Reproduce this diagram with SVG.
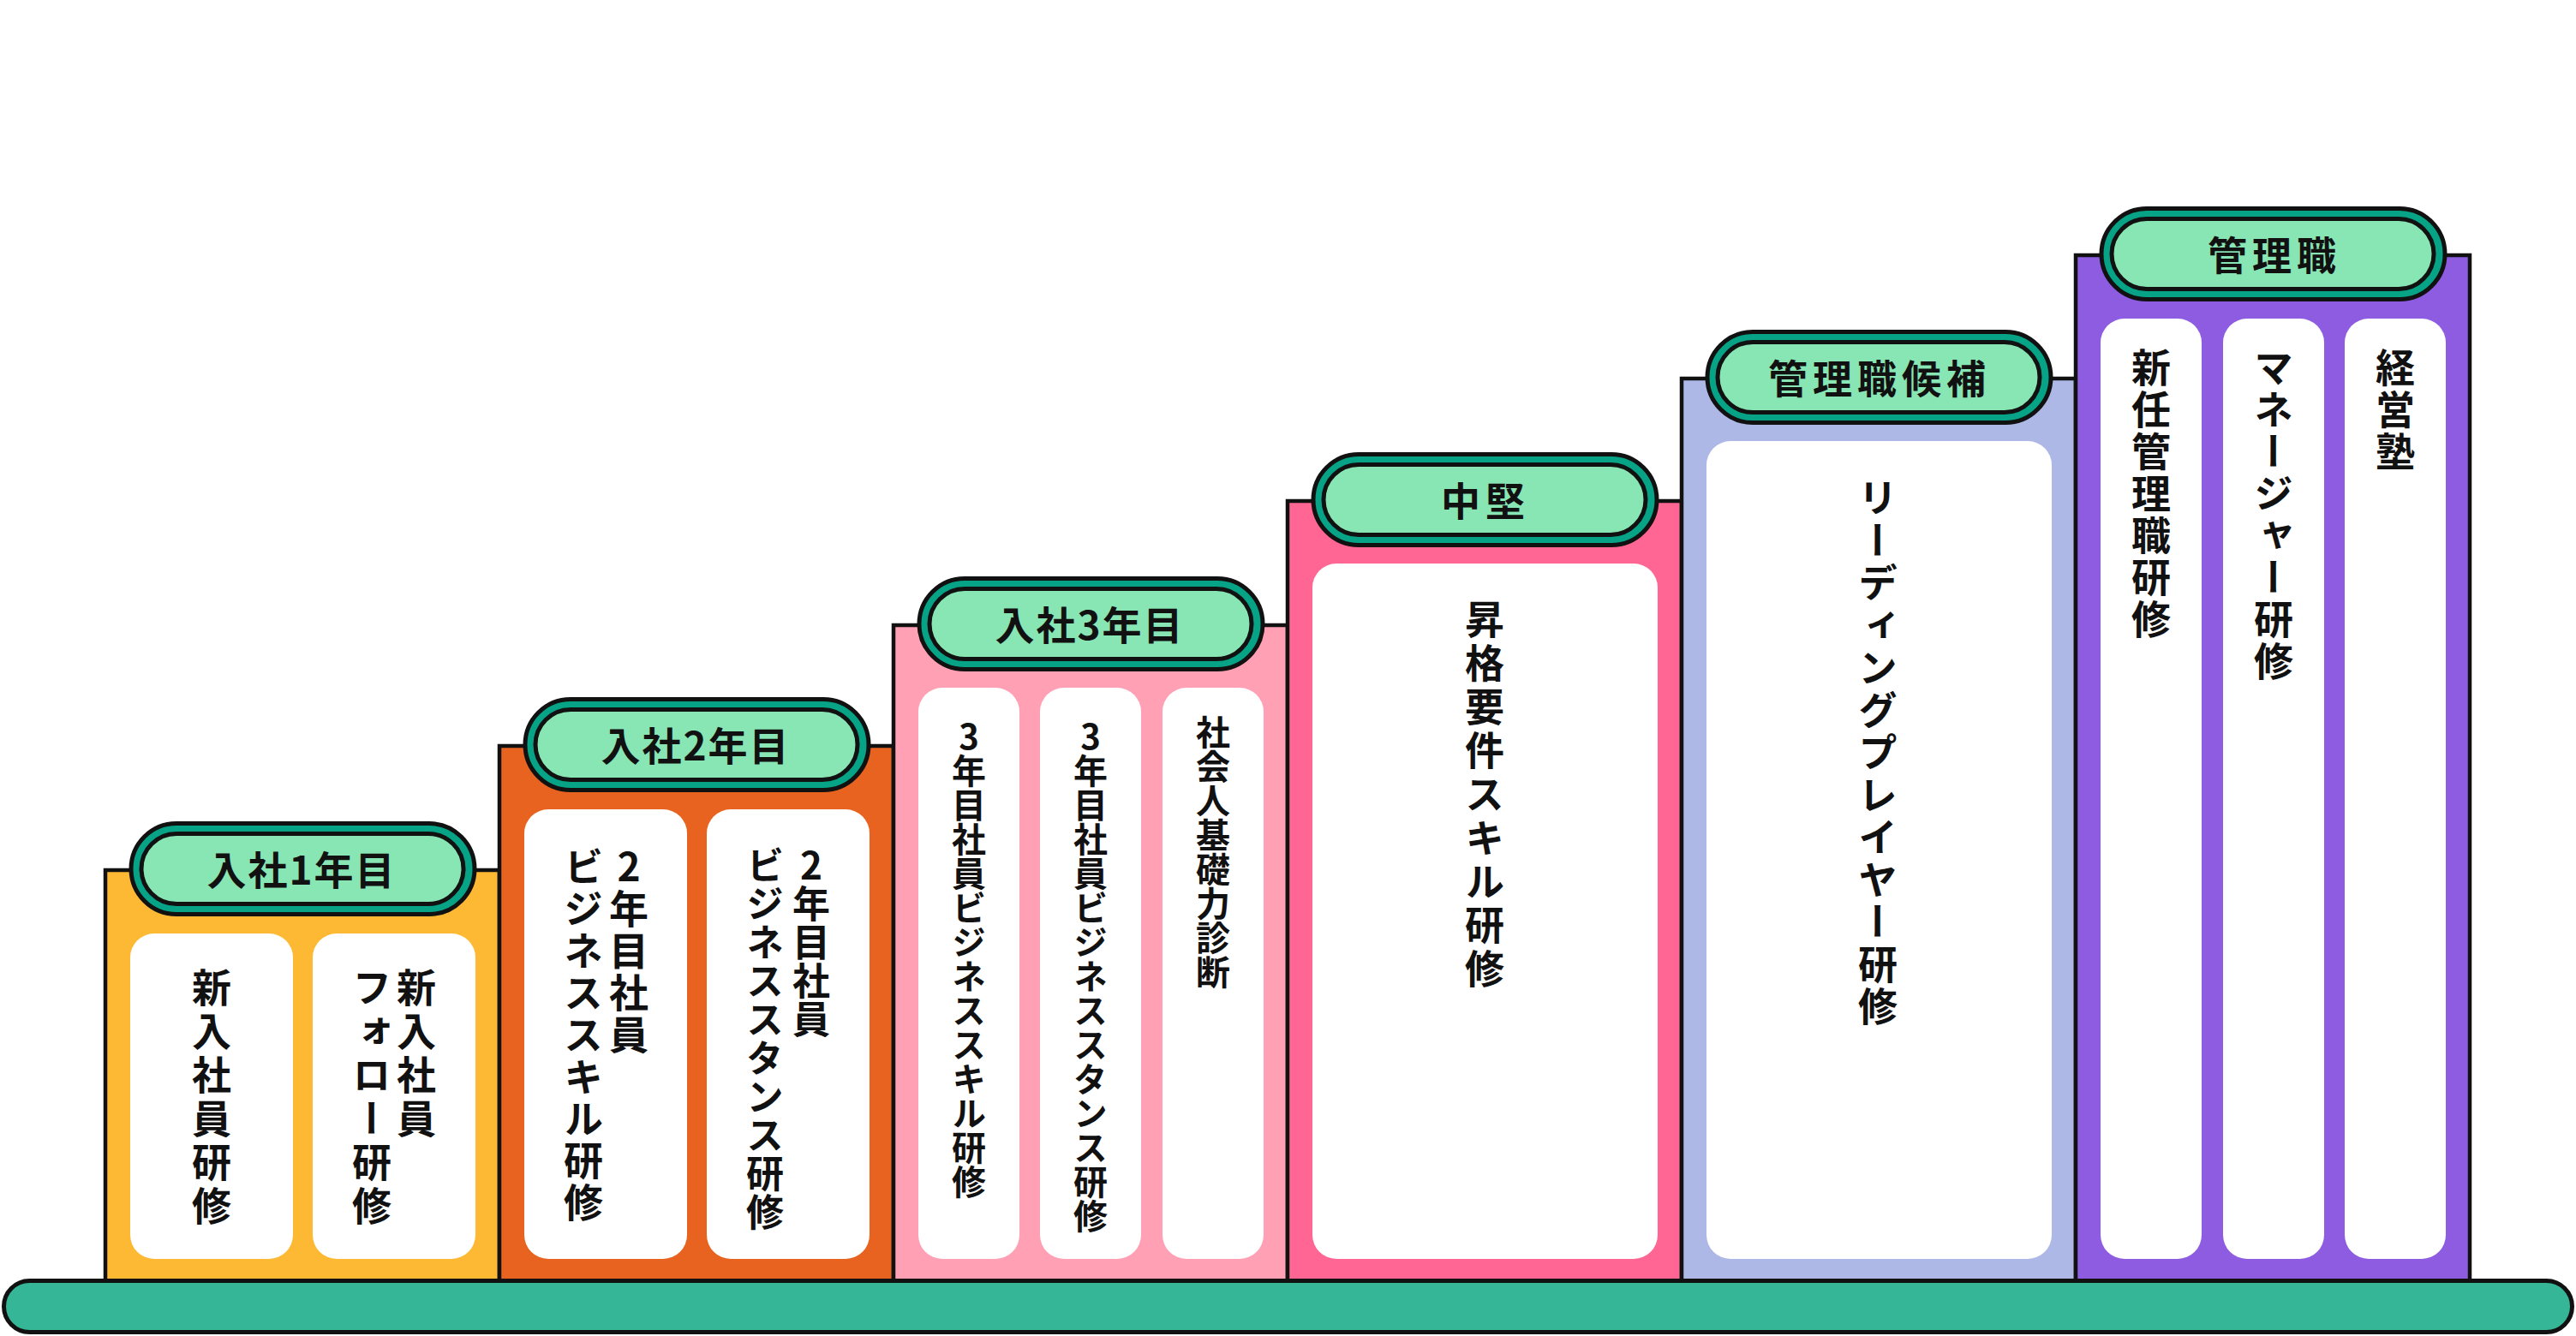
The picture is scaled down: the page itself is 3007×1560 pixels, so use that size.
<svg xmlns="http://www.w3.org/2000/svg" width="3007" height="1560" viewBox="0 0 3007 1560">
<style>
.box{stroke:#111;stroke-width:4.5}
.po{fill:#07A386;stroke:#111;stroke-width:5}
.pi{fill:#88E5B4;stroke:#111;stroke-width:5}
.card{fill:#fff}
.lbl{font-family:"Noto Sans CJK JP","Noto Sans",sans-serif;font-weight:700;font-size:46px;fill:#111;text-anchor:middle}
.v{font-family:"Noto Sans CJK JP","Noto Sans",sans-serif;font-weight:700;font-size:46px;fill:#111;writing-mode:vertical-rl;text-orientation:upright;text-anchor:start}
.bar{fill:#35B696;stroke:#111;stroke-width:5}
</style>
<rect width="3007" height="1560" fill="#fff"/>
<g id="col1">
<rect class="box" x="123" y="1016" width="460" height="484" fill="#FDB933"/>
<rect class="po" x="153" y="961.5" width="401" height="106" rx="53"/>
<rect class="pi" x="165" y="973.5" width="376" height="82" rx="41"/>
<text class="lbl" x="352" y="1033" letter-spacing="2">入社1年目</text>
<rect class="card" x="152" y="1090" width="190" height="380" rx="28"/>
<rect class="card" x="365" y="1090" width="190" height="380" rx="28"/>
<text class="v" x="247" y="1130" letter-spacing="5">新入社員研修</text>
<text class="v" x="486" y="1130" letter-spacing="5">新入社員</text>
<text class="v" x="434" y="1130" letter-spacing="5">フォロー研修</text>
</g>
<g id="col2">
<rect class="box" x="583" y="871" width="460" height="629" fill="#E8631F"/>
<rect class="po" x="613" y="816.5" width="401" height="106" rx="53"/>
<rect class="pi" x="625" y="828.5" width="376" height="82" rx="41"/>
<text class="lbl" x="812" y="888" letter-spacing="2">入社2年目</text>
<rect class="card" x="612" y="945" width="190" height="525" rx="28"/>
<rect class="card" x="825" y="945" width="190" height="525" rx="28"/>
<text class="v" x="734" y="989" letter-spacing="3">2年目社員</text>
<text class="v" x="681" y="989" letter-spacing="3">ビジネススキル研修</text>
<text class="v" x="947" y="988" style="font-size:44px" letter-spacing="1">2年目社員</text>
<text class="v" x="893" y="988" style="font-size:44px" letter-spacing="1">ビジネススタンス研修</text>
</g>
<g id="col3">
<rect class="box" x="1043" y="730" width="460" height="770" fill="#FFA0B4"/>
<rect class="po" x="1073" y="675.5" width="401" height="106" rx="53"/>
<rect class="pi" x="1085" y="687.5" width="376" height="82" rx="41"/>
<text class="lbl" x="1272" y="747" letter-spacing="2">入社3年目</text>
<rect class="card" x="1072" y="803" width="118" height="667" rx="28"/>
<rect class="card" x="1214" y="803" width="118" height="667" rx="28"/>
<rect class="card" x="1357" y="803" width="118" height="667" rx="28"/>
<text class="v" x="1131" y="840" style="font-size:40px">3年目社員ビジネススキル研修</text>
<text class="v" x="1273" y="840" style="font-size:40px">3年目社員ビジネススタンス研修</text>
<text class="v" x="1416" y="835" style="font-size:40px">社会人基礎力診断</text>
</g>
<g id="col4">
<rect class="box" x="1503" y="585" width="460" height="915" fill="#FF6694"/>
<rect class="po" x="1533" y="530.5" width="401" height="106" rx="53"/>
<rect class="pi" x="1545" y="542.5" width="376" height="82" rx="41"/>
<text class="lbl" x="1734" y="602" letter-spacing="6">中堅</text>
<rect class="card" x="1532" y="658" width="403" height="812" rx="28"/>
<text class="v" x="1733" y="700" letter-spacing="5">昇格要件スキル研修</text>
</g>
<g id="col5">
<rect class="box" x="1963" y="442" width="460" height="1058" fill="#ADB8E6"/>
<rect class="po" x="1993" y="387.5" width="401" height="106" rx="53"/>
<rect class="pi" x="2005" y="399.5" width="376" height="82" rx="41"/>
<text class="lbl" x="2194" y="459" letter-spacing="6">管理職候補</text>
<rect class="card" x="1992" y="515" width="403" height="955" rx="28"/>
<text class="v" x="2192" y="558" letter-spacing="3.5">リーディングプレイヤー研修</text>
</g>
<g id="col6">
<rect class="box" x="2423" y="298" width="460" height="1202" fill="#8E5CE0"/>
<rect class="po" x="2453" y="243.5" width="401" height="106" rx="53"/>
<rect class="pi" x="2465" y="255.5" width="376" height="82" rx="41"/>
<text class="lbl" x="2655" y="315" letter-spacing="6">管理職</text>
<rect class="card" x="2452" y="372" width="118" height="1098" rx="28"/>
<rect class="card" x="2595" y="372" width="118" height="1098" rx="28"/>
<rect class="card" x="2737" y="372" width="118" height="1098" rx="28"/>
<text class="v" x="2511" y="406" letter-spacing="3">新任管理職研修</text>
<text class="v" x="2654" y="406" letter-spacing="3">マネージャー研修</text>
<text class="v" x="2796" y="406" letter-spacing="3">経営塾</text>
</g>
<g id="connectors"></g>
<g id="base">
<rect class="bar" x="4.5" y="1495.5" width="2998" height="60" rx="30"/>
</g>
</svg>
